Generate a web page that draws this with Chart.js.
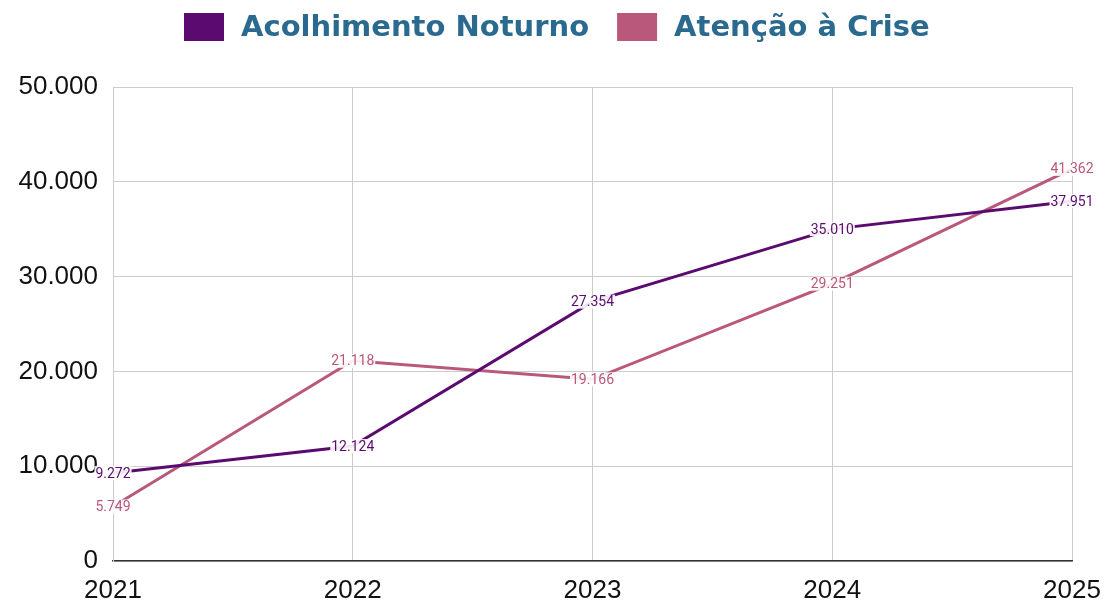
<!DOCTYPE html>
<html lang="pt-BR">
<head>
<meta charset="utf-8">
<title>Acolhimento Noturno e Atenção à Crise</title>
<script src="https://cdn.jsdelivr.net/npm/chart.js@4/dist/chart.umd.min.js"></script>
<style>
  html, body { margin: 0; padding: 0; background: #ffffff; }
  #wrap { width: 1107px; height: 603px; }
</style>
</head>
<body>
<div id="wrap"><canvas id="chart" width="1107" height="603"></canvas></div>
<script>
// Anos e atendimentos por tipo
const years = ['2021', '2022', '2023', '2024', '2025'];
const acolhimentoNoturno = [9272, 12124, 27354, 35010, 37951];
const atencaoCrise = [5749, 21118, 19166, 29251, 41362];
const yTicks = [0, 10000, 20000, 30000, 40000, 50000];

const seriesNames = ['Acolhimento Noturno', 'Atenção à Crise'];
const seriesColors = ['#5b0b6f', '#b9587b'];

// Formato brasileiro de milhar: 12.124
function fmt(v) {
  return String(Math.round(v)).replace(/\B(?=(\d{3})+(?!\d))/g, '.');
}

// Rótulos de valor sobre cada ponto, com fundo claro por trás do texto
const valueLabels = {
  id: 'valueLabels',
  afterDatasetsDraw(chart) {
    const ctx = chart.ctx;
    ctx.save();
    ctx.font = '14px Roboto';
    ctx.textAlign = 'center';
    ctx.textBaseline = 'middle';
    chart.data.datasets.forEach((ds, i) => {
      const meta = chart.getDatasetMeta(i);
      meta.data.forEach((pt, j) => {
        const txt = fmt(ds.data[j]);
        const w = ctx.measureText(txt).width;
        ctx.fillStyle = 'rgba(255,255,255,0.9)';
        ctx.fillRect(pt.x - w / 2 - 1, pt.y - 7, w + 2, 14);
        ctx.fillStyle = ds.borderColor;
        ctx.fillText(txt, pt.x, pt.y + 1);
      });
    });
    ctx.restore();
  }
};

// Legenda desenhada no topo, centrada
const topLegend = {
  id: 'topLegend',
  afterDraw(chart) {
    const ctx = chart.ctx;
    ctx.save();
    ctx.font = 'bold 29px "DejaVu Sans"';
    ctx.textBaseline = 'alphabetic';
    const boxW = 40, boxH = 28, gapText = 17, gapItem = 28;
    const items = chart.data.datasets.map(ds => ({
      label: ds.label, color: ds.borderColor, w: ctx.measureText(ds.label).width
    }));
    let total = 0;
    items.forEach((it, k) => { total += boxW + gapText + it.w + (k ? gapItem : 0); });
    let x = Math.round((chart.width - total) / 2) + 3;
    items.forEach((it, k) => {
      if (k) x += gapItem;
      ctx.fillStyle = it.color;
      ctx.fillRect(x, 13, boxW, boxH);
      x += boxW + gapText;
      ctx.fillStyle = '#2b6a8f';
      ctx.fillText(it.label, x, 36);
      x += it.w;
    });
    ctx.restore();
  }
};

new Chart(document.getElementById('chart'), {
  type: 'line',
  data: {
    labels: years,
    datasets: [
      {
        label: seriesNames[0],
        data: acolhimentoNoturno,
        borderColor: seriesColors[0],
        backgroundColor: seriesColors[0],
        borderWidth: 3,
        pointRadius: 0,
        tension: 0
      },
      {
        label: seriesNames[1],
        data: atencaoCrise,
        borderColor: seriesColors[1],
        backgroundColor: seriesColors[1],
        borderWidth: 3,
        pointRadius: 0,
        tension: 0
      }
    ]
  },
  options: {
    responsive: false,
    animation: false,
    devicePixelRatio: 1,
    layout: { padding: { top: 87, right: 35, bottom: 0, left: 0 } },
    plugins: {
      legend: { display: false },
      tooltip: { enabled: false }
    },
    scales: {
      x: {
        offset: false,
        grid: { color: '#cccccc', lineWidth: 1, drawTicks: false },
        border: { color: '#333333', width: 1.5 },
        ticks: {
          color: '#111111',
          font: { family: 'Liberation Sans, Arial', size: 26 },
          padding: 14,
          maxRotation: 0
        },
        afterFit(scale) {
          scale.height = 42;
          scale.paddingLeft = 0;
          scale.paddingRight = 0;
        }
      },
      y: {
        min: 0,
        max: 50000,
        grid: { color: '#cccccc', lineWidth: 1, drawTicks: false },
        border: { color: '#cccccc', width: 1 },
        afterBuildTicks(scale) { scale.ticks = yTicks.map(v => ({ value: v })); },
        ticks: {
          color: '#111111',
          font: { family: 'Liberation Sans, Arial', size: 26 },
          padding: 15,
          callback: v => fmt(v)
        },
        afterFit(scale) { scale.width = 113; }
      }
    }
  },
  plugins: [valueLabels, topLegend]
});
</script>
</body>
</html>
